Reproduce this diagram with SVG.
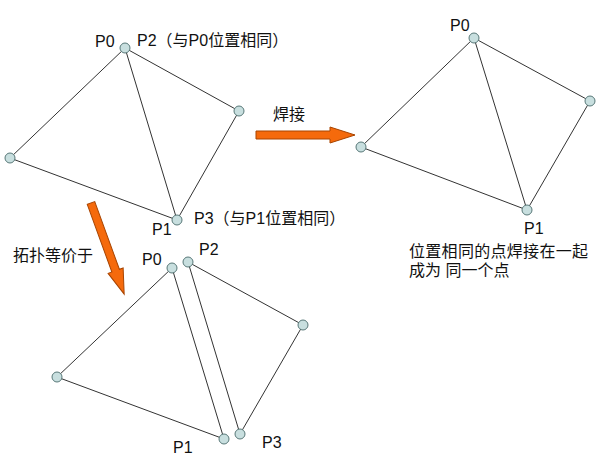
<svg xmlns="http://www.w3.org/2000/svg" width="607" height="456" viewBox="0 0 607 456">
<style>
.e{stroke:#333;stroke-width:1;fill:none}
.n{fill:#c8dfdf;stroke:#587878;stroke-width:1}
.t{font-family:"Liberation Sans","Noto Sans CJK SC",sans-serif;font-size:16px;fill:#111}
.a{fill:#f56a0c;stroke:#a84400;stroke-width:1}
</style>
<rect width="607" height="456" fill="#fff"/>
<g id="connectors">
<line class="e" x1="125" y1="48" x2="239" y2="111"/>
<line class="e" x1="125" y1="48" x2="10" y2="158"/>
<line class="e" x1="125" y1="48" x2="177" y2="220"/>
<line class="e" x1="10" y1="158" x2="177" y2="220"/>
<line class="e" x1="239" y1="111" x2="177" y2="220"/>
<line class="e" x1="474" y1="38" x2="590" y2="101"/>
<line class="e" x1="474" y1="38" x2="361" y2="147"/>
<line class="e" x1="474" y1="38" x2="527" y2="210"/>
<line class="e" x1="361" y1="147" x2="527" y2="210"/>
<line class="e" x1="590" y1="101" x2="527" y2="210"/>
<line class="e" x1="172" y1="268" x2="57" y2="377"/>
<line class="e" x1="172" y1="268" x2="224" y2="439"/>
<line class="e" x1="57" y1="377" x2="224" y2="439"/>
<line class="e" x1="188" y1="262" x2="303" y2="325"/>
<line class="e" x1="188" y1="262" x2="240" y2="434"/>
<line class="e" x1="303" y1="325" x2="240" y2="434"/>
</g>
<g id="arrow-weld"><polygon class="a" transform="translate(256,135)" points="0,-4 74,-4 74,-8 99,0 74,8 74,4 0,4"/></g>
<g id="arrow-equiv"><polygon class="a" transform="translate(91,203) rotate(70)" points="0,-4 72,-4 72,-8 97,0 72,8 72,4 0,4"/></g>
<g id="A-P0"><circle class="n" cx="125" cy="48" r="5"/></g>
<g id="A-R"><circle class="n" cx="239" cy="111" r="5"/></g>
<g id="A-L"><circle class="n" cx="10" cy="158" r="5"/></g>
<g id="A-P1"><circle class="n" cx="177" cy="220" r="5"/></g>
<g id="B-P0"><circle class="n" cx="474" cy="38" r="5"/></g>
<g id="B-R"><circle class="n" cx="590" cy="101" r="5"/></g>
<g id="B-L"><circle class="n" cx="361" cy="147" r="5"/></g>
<g id="B-P1"><circle class="n" cx="527" cy="210" r="5"/></g>
<g id="C-P0"><circle class="n" cx="172" cy="268" r="5"/></g>
<g id="C-P2"><circle class="n" cx="188" cy="262" r="5"/></g>
<g id="C-R"><circle class="n" cx="303" cy="325" r="5"/></g>
<g id="C-L"><circle class="n" cx="57" cy="377" r="5"/></g>
<g id="C-P1"><circle class="n" cx="224" cy="439" r="5"/></g>
<g id="C-P3"><circle class="n" cx="240" cy="434" r="5"/></g>
<g id="labels">
<text class="t" x="95" y="47">P0</text>
<text class="t" x="137" y="46">P2（与P0位置相同）</text>
<text class="t" x="152" y="235">P1</text>
<text class="t" x="194" y="224">P3（与P1位置相同）</text>
<text class="t" x="273" y="120">焊接</text>
<text class="t" x="450" y="31">P0</text>
<text class="t" x="524" y="234">P1</text>
<text class="t" x="409" y="257" textLength="179">位置相同的点焊接在一起</text>
<text class="t" x="409" y="276">成为 同一个点</text>
<text class="t" x="13" y="261">拓扑等价于</text>
<text class="t" x="142" y="265">P0</text>
<text class="t" x="199" y="255">P2</text>
<text class="t" x="173" y="453">P1</text>
<text class="t" x="262" y="448">P3</text>
</g>
</svg>
